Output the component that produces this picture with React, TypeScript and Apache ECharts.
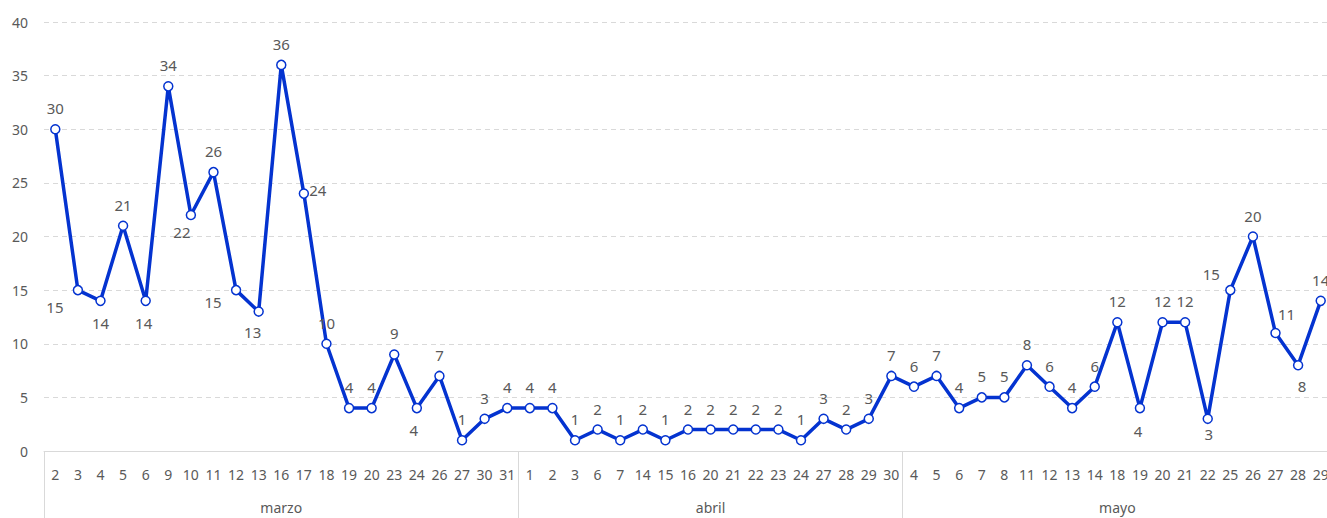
import React, { useEffect, useRef } from "react";
import * as echarts from "echarts";

const marzoDays = ["2","3","4","5","6","9","10","11","12","13","16","17","18","19","20","23","24","26","27","30","31"];
const abrilDays = ["1","2","3","6","7","14","15","16","20","21","22","23","24","27","28","29","30"];
const mayoDays = ["4","5","6","7","8","11","12","13","14","18","19","20","21","22","25","26","27","28","29"];

const marzoValues = [30,15,14,21,14,34,22,26,15,13,36,24,10,4,4,9,4,7,1,3,4];
const abrilValues = [4,4,1,2,1,2,1,2,2,2,2,2,1,3,2,3,7];
const mayoValues = [6,7,4,5,5,8,6,4,6,12,4,12,12,3,15,20,11,8,14];

const months = ["marzo", "abril", "mayo"];
const yTicks = { min: 0, max: 40, interval: 5 };

// label placement (offset relative to point center) by index; default above
const labelOffsets: Record<number, [number, number]> = {
  1: [-23, 17],
  2: [0, 22],
  4: [-2, 22],
  6: [-9, 17],
  8: [-23, 12],
  9: [-6, 20],
  11: [14, -4],
  16: [-3, 22],
  48: [-2, 23],
  51: [1, 15],
  52: [-19, -16],
  54: [11, -19],
  55: [4, 21],
};

export default function App() {
  const ref = useRef<HTMLDivElement>(null);
  useEffect(() => {
    if (!ref.current) return;
    const chart = echarts.init(ref.current, null, { renderer: "svg" });
    const groups = [marzoDays, abrilDays, mayoDays];
    const days = ([] as string[]).concat(...groups);
    const values = ([] as number[]).concat(marzoValues, abrilValues, mayoValues);
    const monthOfPoint: string[] = [];
    const groupStarts: number[] = [];
    const groupMids: number[] = [];
    let acc = 0;
    groups.forEach((g, gi) => {
      groupStarts.push(acc);
      groupMids.push(acc + Math.floor((g.length - 1) / 2));
      g.forEach(() => monthOfPoint.push(months[gi]));
      acc += g.length;
    });
    const blue = "#0433D0";
    const font = "Noto Sans";
    const textColor = "#595959";
    const data = values.map((v, i) => {
      const off = labelOffsets[i] || [0, -21];
      return { value: v, label: { position: "inside", offset: off } };
    });
    chart.setOption({
      animation: false,
      grid: { left: 44, right: 8, top: 22, bottom: 67 },
      xAxis: [
        {
          type: "category",
          data: days,
          position: "bottom",
          axisLine: { show: true, lineStyle: { color: "#d9d9d9", width: 1 } },
          axisTick: { show: false },
          axisLabel: { interval: 0, margin: 16, color: textColor, fontSize: 14, fontFamily: font },
          splitLine: { show: false },
        },
        {
          type: "category",
          data: monthOfPoint,
          position: "bottom",
          axisLine: { show: false },
          axisTick: {
            show: true,
            length: 70,
            interval: (i: number) => groupStarts.includes(i),
            lineStyle: { color: "#d9d9d9", width: 1 },
          },
          axisLabel: {
            interval: (i: number) => groupMids.includes(i),
            margin: 49,
            color: textColor,
            fontSize: 14,
            fontFamily: font,
          },
          splitLine: { show: false },
        },
      ],
      yAxis: {
        type: "value",
        min: yTicks.min,
        max: yTicks.max,
        interval: yTicks.interval,
        axisLine: { show: false },
        axisTick: { show: false },
        axisLabel: { color: textColor, fontSize: 14, fontFamily: font, margin: 16 },
        splitLine: { show: true, lineStyle: { color: "#d9d9d9", type: [5, 4], width: 1 } },
      },
      series: [
        {
          type: "line",
          xAxisIndex: 0,
          data,
          symbol: "circle",
          symbolSize: 9,
          lineStyle: { color: blue, width: 3.5 },
          itemStyle: { color: "#ffffff", borderColor: blue, borderWidth: 1.5 },
          label: { show: true, color: textColor, fontSize: 15, fontFamily: font },
          z: 3,
        },
      ],
    });
    return () => chart.dispose();
  }, []);
  return (
    <div style={{ position: "absolute", left: 0, top: 0, width: 1327, height: 518, overflow: "hidden", background: "#fff" }}>
      <div ref={ref} style={{ width: 1340, height: 518 }} />
    </div>
  );
}
